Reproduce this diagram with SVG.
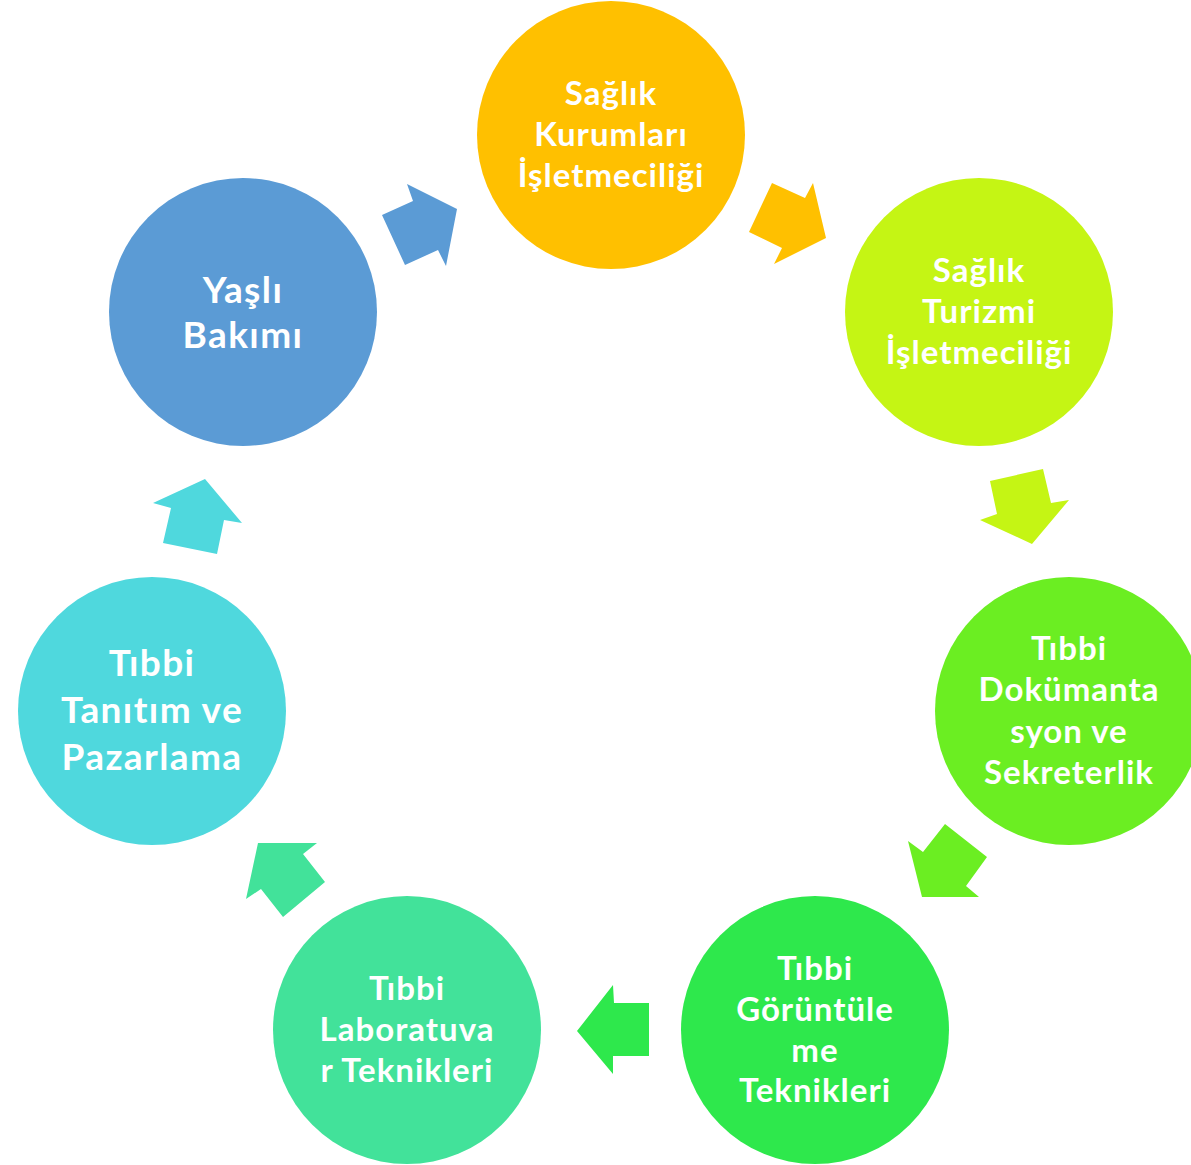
<svg xmlns="http://www.w3.org/2000/svg" width="1191" height="1165" viewBox="0 0 1191 1165">
<style>
text{font-family:Lato,"Open Sans","Liberation Sans",sans-serif;font-weight:bold;fill:#fff;text-anchor:middle}
.m{font-size:33px;letter-spacing:1px}
.l{font-size:37px;letter-spacing:1.4px}
</style>
<rect width="1191" height="1165" fill="#fff"/>
<g id="connectors">
<polygon points="382,215 413,201 407,184 457,209 446,266 438,250 405,265" fill="#5B9BD5"/>
<polygon points="772,183 805,198 813,183 826,238 774,264 782,248 749,232" fill="#FFC000"/>
<polygon points="990,481 1043,469 1051,503 1069,500 1032,544 980,520 997,514" fill="#C5F514"/>
<polygon points="945,824 987,857 966,886 979,897 922,897 908,841 923,852" fill="#6BEE22"/>
<polygon points="577,1031 613,985 614,1003 649,1003 649,1056 613,1056 613,1074" fill="#2EE84C"/>
<polygon points="258,843 317,843 303,854 325,882 283,917 261,889 246,899" fill="#42E29A"/>
<polygon points="205,479 242,523 224,520 217,554 163,543 171,508 153,503" fill="#4FD8DD"/>
</g>
<g id="n1"><circle cx="611" cy="135" r="134" fill="#FFC000"/>
<text class="m" x="611" y="105">Sağlık</text><text class="m" x="611" y="146">Kurumları</text><text class="m" x="611" y="187">İşletmeciliği</text></g>
<g id="n2"><circle cx="979" cy="312" r="134" fill="#C5F514"/>
<text class="m" x="979" y="282">Sağlık</text><text class="m" x="979" y="323">Turizmi</text><text class="m" x="979" y="364">İşletmeciliği</text></g>
<g id="n3"><circle cx="1069" cy="711" r="134" fill="#6BEE22"/>
<text class="m" x="1069" y="660">Tıbbi</text><text class="m" x="1069" y="701">Dokümanta</text><text class="m" x="1069" y="743">syon ve</text><text class="m" x="1069" y="784">Sekreterlik</text></g>
<g id="n4"><circle cx="815" cy="1030" r="134" fill="#2EE84C"/>
<text class="m" x="815" y="980">Tıbbi</text><text class="m" x="815" y="1021">Görüntüle</text><text class="m" x="815" y="1062">me</text><text class="m" x="815" y="1102">Teknikleri</text></g>
<g id="n5"><circle cx="407" cy="1030" r="134" fill="#42E29A"/>
<text class="m" x="407" y="1000">Tıbbi</text><text class="m" x="407" y="1041">Laboratuva</text><text class="m" x="407" y="1082">r Teknikleri</text></g>
<g id="n6"><circle cx="152" cy="711" r="134" fill="#4FD8DD"/>
<text class="l" x="152" y="676">Tıbbi</text><text class="l" x="152" y="723">Tanıtım ve</text><text class="l" x="152" y="770">Pazarlama</text></g>
<g id="n7"><circle cx="243" cy="312" r="134" fill="#5B9BD5"/>
<text class="l" x="243" y="303">Yaşlı</text><text class="l" x="243" y="348">Bakımı</text></g>
</svg>
